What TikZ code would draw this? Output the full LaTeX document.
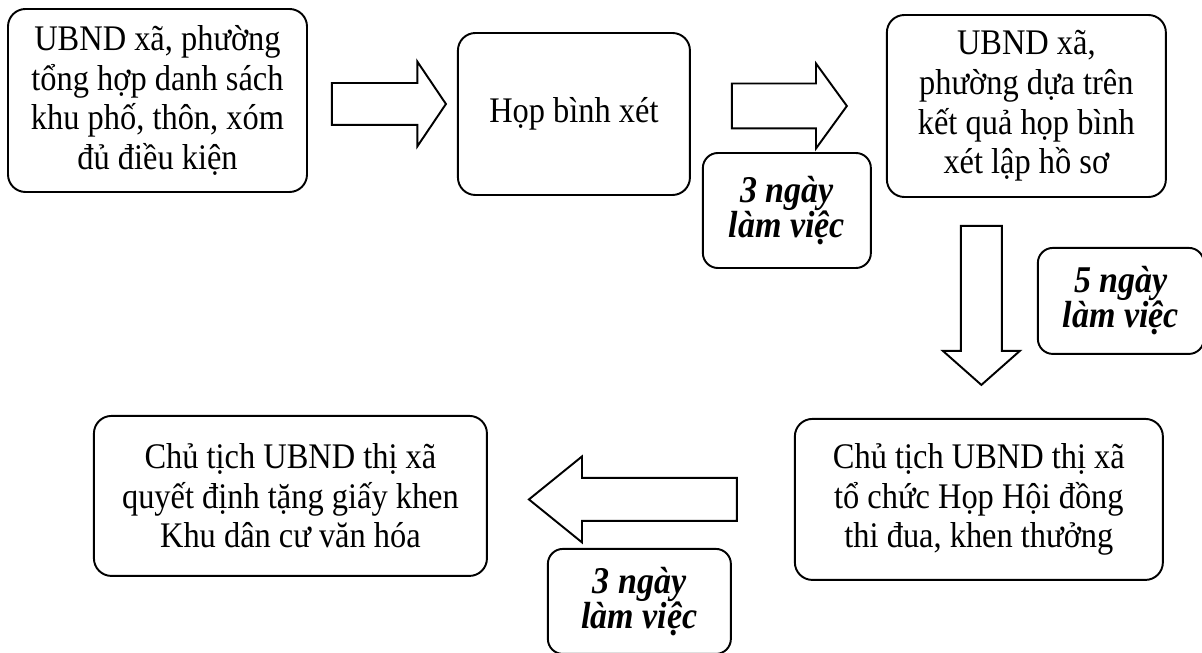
\documentclass[tikz,border=0pt]{standalone}
\usepackage{fontspec}
\setmainfont{Liberation Serif}[FakeStretch=0.9]
\usetikzlibrary{shapes.arrows, positioning}
\tikzstyle{stage} = [rectangle, rounded corners=0.35cm, draw=black, line width=1.1pt, fill=white, align=center, inner sep=0pt, font=\fontsize{20.5}{22.5}\selectfont]
\tikzstyle{days} = [rectangle, rounded corners=0.3cm, draw=black, line width=1.1pt, fill=white, align=center, inner sep=0pt, font=\fontsize{21.5}{20}\selectfont\bfseries\itshape]
\tikzstyle{bigarrow} = [single arrow, draw=black, line width=1.1pt, fill=white, inner xsep=0pt, anchor=tail]

\begin{document}
\begin{tikzpicture}[node distance=1cm]
		\useasboundingbox (0,0) rectangle (24.04,-13.06);
		\node (ubnd) [stage, minimum width=5.98cm, minimum height=3.66cm] at (3.15,-2.01) {UBND xã, phường\\tổng hợp danh sách\\khu phố, thôn, xóm\\đủ điều kiện};
		\node (hop) [stage, minimum width=4.64cm, minimum height=3.24cm, right=2.98cm of ubnd, yshift=-0.27cm] {Họp bình xét};
		\node (hoso) [stage, minimum width=5.58cm, minimum height=3.64cm, right=3.9cm of hop, yshift=0.16cm] {UBND xã,\\phường dựa trên\\kết quả họp bình\\xét lập hồ sơ};
		\node (hoidong) [stage, minimum width=7.36cm, minimum height=3.22cm, below=4.4cm of hoso, xshift=-0.95cm] {Chủ tịch UBND thị xã\\tổ chức Họp Hội đồng\\thi đua, khen thưởng};
		\node (khen) [stage, minimum width=7.86cm, minimum height=3.2cm, left=6.12cm of hoidong, yshift=0.07cm] {Chủ tịch UBND thị xã\\quyết định tặng giấy khen\\Khu dân cư văn hóa};

		\node (a1) [right=0.46cm of ubnd, bigarrow, yshift=-0.07cm, minimum height=2.28cm, inner ysep=0.4cm, single arrow head extend=0.43cm, single arrow tip angle=112] {};
		\node (a2) [right=0.8cm of hop, bigarrow, yshift=0.16cm, minimum height=2.3cm, inner ysep=0.43cm, single arrow head extend=0.4cm, single arrow tip angle=108] {};
		\node (a3) [below=0.54cm of hoso, bigarrow, xshift=-0.9cm, shape border rotate=270, minimum height=3.18cm, inner xsep=0.39cm, inner ysep=0pt, single arrow head extend=0.36cm, single arrow tip angle=97] {};
		\node (a4) [left=1.12cm of hoidong, bigarrow, shape border rotate=180, minimum height=4.16cm, inner ysep=0.41cm, single arrow head extend=0.43cm, single arrow tip angle=78] {};

		\node (d1) [days, minimum width=3.36cm, minimum height=2.3cm, right=0.22cm of hop, yshift=-1.93cm] {3 ngày\\làm việc};
		\node (d2) [days, minimum width=3.32cm, minimum height=2.12cm, below=0.98cm of hoso, xshift=1.89cm] {5 ngày\\làm việc};
		\node (d3) [days, minimum width=3.66cm, minimum height=2.1cm, right=1.18cm of khen, yshift=-2.11cm] {3 ngày\\làm việc};
	  \end{tikzpicture}
\end{document}
